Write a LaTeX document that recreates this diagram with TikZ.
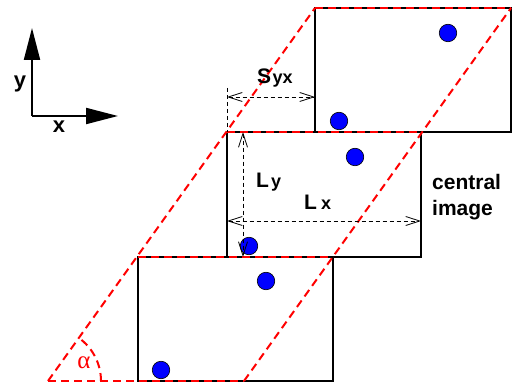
\documentclass[tikz,border=0pt]{standalone}
\usepackage{fontspec}
\setmainfont{Liberation Sans}
\newfontfamily\greekserif{Liberation Serif}
\usetikzlibrary{arrows.meta}
\begin{document}
\begin{tikzpicture}[x=1pt,y=-1pt,
  frame/.style={draw=black,line width=2pt},
  reddash/.style={draw=red,line width=2pt,dash pattern=on 8pt off 5pt},
  dot/.style={circle,draw=black,line width=0.6pt,fill=blue,minimum size=17.5pt,inner sep=0pt},
  dim/.style={draw=black,line width=0.8pt,dash pattern=on 4pt off 3pt},
  dimarrow/.style={dim,{Straight Barb[length=14pt,width=9pt]}-{Straight Barb[length=14pt,width=9pt]}},
  axis/.style={line width=2pt,-{Triangle[length=32pt,width=16pt]}},
  lbl/.style={font=\fontsize{21}{24}\selectfont\bfseries,inner sep=0pt},
  axlbl/.style={font=\fontsize{22}{24}\selectfont\bfseries,inner sep=0pt},
  sublbl/.style={font=\fontsize{18}{20}\selectfont\bfseries,inner sep=0pt}
]
\fill[white] (0,0) rectangle (512,385);
\useasboundingbox (0,0) rectangle (512,385);

% image frames
\coordinate (T1) at (315,8);   \coordinate (T2) at (511,132);
\coordinate (C1) at (227,132); \coordinate (C2) at (421,257);
\coordinate (B1) at (138,257); \coordinate (B2) at (333,381);
\draw[frame] (T1) rectangle (T2);
\draw[frame] (C1) rectangle (C2);
\draw[frame] (B1) rectangle (B2);

% dots
\node[dot] (d1) at (448,33) {};
\node[dot] (d2) at (339,121) {};
\node[dot] (d3) at (355,157) {};
\node[dot] (d4) at (249,246) {};
\node[dot] (d5) at (266,281) {};
\node[dot] (d6) at (161,370) {};

% red parallelogram
\coordinate (P1) at (48,381);
\coordinate (P2) at (244,381);
\coordinate (P3) at (511,8);
\coordinate (P4) at (315,8);
\coordinate (Q1) at (227,132);
\coordinate (Q2) at (422,132);
\coordinate (R1) at (138,257);
\coordinate (R2) at (333,257);
\draw[reddash] (P1) -- (P4);
\draw[reddash] (P2) -- (P3);
\draw[reddash] (P1) -- (P2);
\draw[reddash] (R1) -- (R2);
\draw[reddash] (Q1) -- (Q2);
\draw[reddash] (P4) -- (P3);
\draw[reddash] ([shift={(53,0)}]P1) arc[start angle=0,end angle=-54.4,radius=53];
\node[text=red,font=\fontsize{25}{26}\selectfont\greekserif,inner sep=0pt] (alpha) at (84,363) {α};

% axes
\coordinate (O) at (32,116);
\coordinate (Ytip) at (32,28);
\coordinate (Xtip) at (118,116);
\draw[axis] (O) -- (Ytip);
\draw[axis] (O) -- (Xtip);
\node[axlbl,anchor=base] (ylab) at (20,88) {y};
\node[axlbl,anchor=base] (xlab) at (59,133) {x};

% dimension S_yx
\coordinate (Sa) at (227,88);
\coordinate (Sb) at (227,97);
\coordinate (Sc) at (315,97);
\draw[dim] (Sa) -- (C1);
\draw[dimarrow] (Sb) -- (Sc);
\node[lbl,anchor=base west] (S) at (257,84) {S};
\node[sublbl,anchor=base west] (Ssub) at ([xshift=1pt]S.base east) {yx};

% dimension L_y
\coordinate (Ya) at (243,132);
\coordinate (Yb) at (243,257);
\draw[dimarrow] (Ya) -- (Yb);
\node[lbl,anchor=base west] (L1) at (256,188) {L};
\node[sublbl,anchor=base west] (L1s) at (271,188) {y};

% dimension L_x
\coordinate (Xa) at (227,221);
\coordinate (Xb) at (421,221);
\draw[dimarrow] (Xa) -- (Xb);
\node[lbl,anchor=base west] (L2) at (304,210) {L};
\node[sublbl,anchor=base west] (L2s) at (321,210) {x};

% label
\node[lbl,anchor=base west] (cen) at (432,190) {central};
\node[lbl,anchor=base west] (img) at (432,215) {image};
\end{tikzpicture}
\end{document}
